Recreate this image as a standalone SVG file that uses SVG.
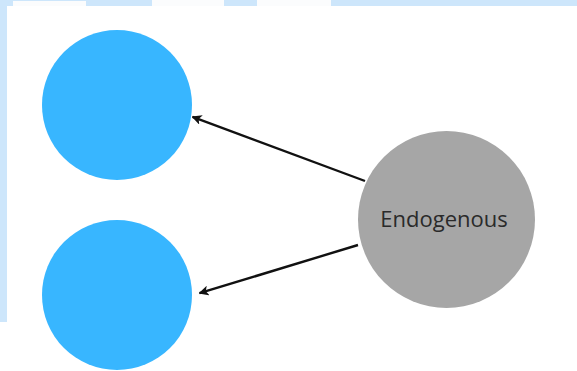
<svg xmlns="http://www.w3.org/2000/svg" width="577" height="371" viewBox="0 0 577 371">
  <defs>
    <style>
      .band { fill: #cde6fb; }
      .patch { fill: #fbfcfd; }
      .node-blue { fill: #38b6ff; }
      .node-gray { fill: #a6a6a6; }
      .label { font-family: "Open Sans", "Noto Sans", sans-serif; font-size: 22px; fill: #2a2a2a; text-anchor: middle; }
      .edge { stroke: #111; stroke-width: 2.4; fill: none; marker-end: url(#head); }
    </style>
    <marker id="head" viewBox="0 0 10 10" refX="9" refY="5" markerWidth="4.2" markerHeight="4.2" orient="auto" markerUnits="strokeWidth">
      <path d="M0,0 L10,5 L0,10 L2.5,5 Z" fill="#111"/>
    </marker>
  </defs>

  <!-- page background with the light blue frame along top and left -->
  <rect x="0" y="0" width="577" height="371" fill="#ffffff"/>
  <rect class="band" x="0" y="0" width="577" height="6"/>
  <rect class="band" x="0" y="0" width="7" height="322"/>
  <rect class="patch" x="13" y="1" width="73" height="5"/>
  <rect class="patch" x="152" y="0" width="72" height="6" fill="#fdfbf6"/>
  <rect class="patch" x="257" y="0" width="74" height="6" fill="#fdfbf6"/>

  <!-- connectors -->
  <g id="connectors">
    <line class="edge" x1="365" y1="181" x2="192.5" y2="116.8"/>
    <line class="edge" x1="358" y1="245" x2="199.5" y2="293.2"/>
  </g>

  <!-- nodes -->
  <g id="node-top">
    <circle class="node-blue" cx="117" cy="105" r="75"/>
  </g>
  <g id="node-bottom">
    <circle class="node-blue" cx="117" cy="295" r="75"/>
  </g>
  <g id="node-endogenous">
    <circle class="node-gray" cx="446.5" cy="219.5" r="88.5"/>
    <text class="label" x="444" y="227">Endogenous</text>
  </g>
</svg>
